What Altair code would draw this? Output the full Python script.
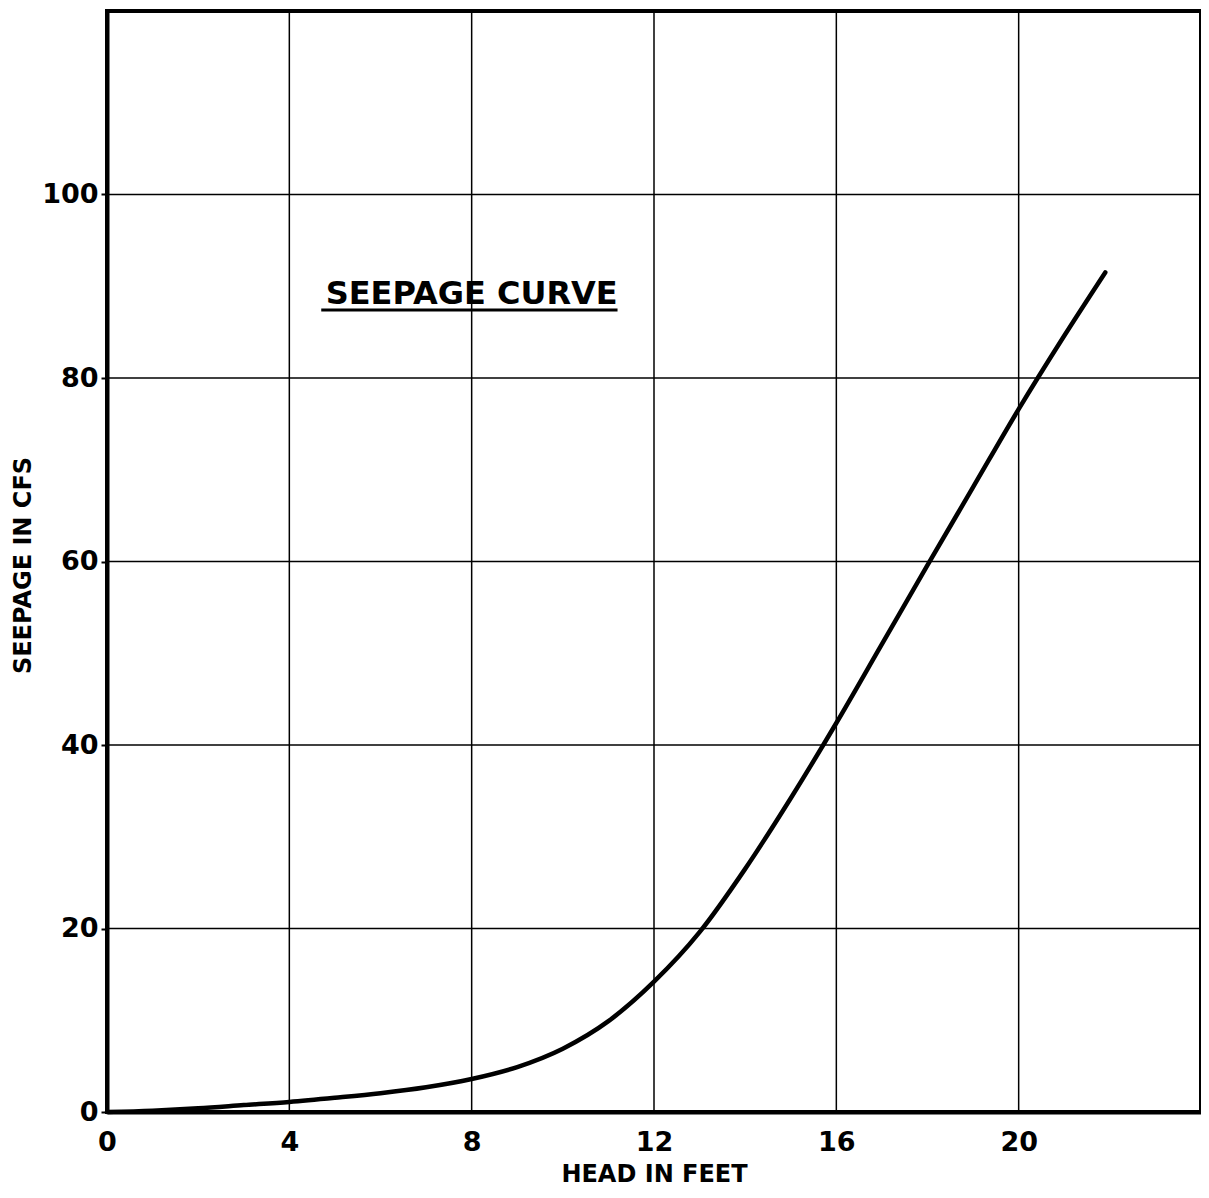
import altair as alt
import pandas as pd

# Data
head_ft = [0, 1, 2, 3, 4, 5, 6, 7, 8, 9, 10, 11, 12, 13, 14, 15, 16, 17, 18, 19, 20, 21, 21.9]
seepage_cfs = [0, 0.15, 0.4, 0.75, 1.1, 1.55, 2.05, 2.7, 3.6, 4.9, 6.9, 9.9, 14.2, 19.6, 26.5,
               34.2, 42.4, 51.0, 59.6, 68.1, 76.6, 84.6, 91.5]

x_ticks = [0, 4, 8, 12, 16, 20]
x_grid = [0, 4, 8, 12, 16, 20, 24]
y_ticks = [0, 20, 40, 60, 80, 100]
y_grid = [0, 20, 40, 60, 80, 100, 120]

label_text = ["SEEPAGE CURVE"]
label_x = [8.0]
label_y = [89.2]
underline_x1 = [4.7]
underline_x2 = [11.2]
underline_y = [87.4]

FONT = "DejaVu Sans"
XT = "HEAD IN FEET"
YT = "SEEPAGE IN CFS"

curve = pd.DataFrame({"head": head_ft, "seepage": seepage_cfs})
label_df = pd.DataFrame({"head": label_x, "seepage": label_y, "label": label_text})
uline_df = pd.DataFrame({"head": underline_x1, "head2": underline_x2, "seepage": underline_y})
xgrid_df = pd.DataFrame({"head": x_grid})
ygrid_df = pd.DataFrame({"seepage": y_grid})

xscale = alt.Scale(domain=[0, 24], nice=False, zero=True)
yscale = alt.Scale(domain=[0, 120], nice=False, zero=True)

xaxis = alt.Axis(values=x_ticks, grid=False, tickSize=0, labelPadding=30,
                 labelBaseline="middle", titleY=69, titleBaseline="alphabetic")
yaxis = alt.Axis(values=y_ticks, grid=False, tickSize=6, labelPadding=3,
                 titleX=-84, titleY=554, titleBaseline="middle")

X = alt.X("head:Q", scale=xscale, axis=xaxis, title=XT)
Y = alt.Y("seepage:Q", scale=yscale, axis=yaxis, title=YT)

vgrid = alt.Chart(xgrid_df).mark_rule(color="black", strokeWidth=1.5).encode(x=X)
hgrid = alt.Chart(ygrid_df).mark_rule(color="black", strokeWidth=1.5).encode(y=Y)

line = alt.Chart(curve).mark_line(
    color="black", strokeWidth=4.5, interpolate="monotone", strokeCap="round"
).encode(x=X, y=Y)

label = alt.Chart(label_df).mark_text(
    font=FONT, fontWeight="bold", fontSize=32, color="black",
    align="center", baseline="middle"
).encode(x=X, y=Y, text="label:N")

uline = alt.Chart(uline_df).mark_rule(color="black", strokeWidth=3).encode(
    x=X, x2=alt.X2("head2:Q", title=XT), y=Y
)

chart = alt.layer(vgrid, hgrid, line, label, uline).properties(
    width=1094,
    height=1101,
    autosize=alt.AutoSizeParams(type="none"),
    padding={"left": 99, "top": 3, "right": 0, "bottom": 76},
    background="white",
).configure_view(
    stroke="black", strokeWidth=4
).configure_axis(
    domainColor="black", domainWidth=4,
    tickColor="black", tickWidth=2,
    labelFont=FONT, labelFontWeight="bold", labelFontSize=27, labelColor="black",
    titleFont=FONT, titleFontWeight="bold", titleFontSize=24, titleColor="black",
    labelFlush=False, labelOverlap=False,
)

chart.save("out.html", embed_options={"renderer": "svg", "actions": False})
